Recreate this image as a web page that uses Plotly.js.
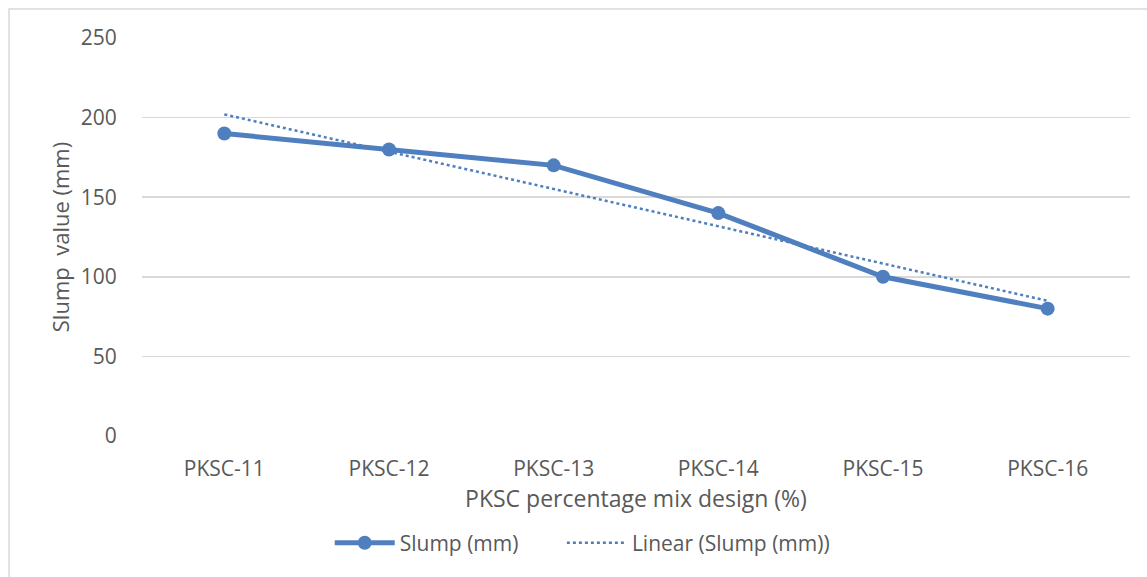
<!DOCTYPE html>
<html>
<head>
<meta charset="utf-8">
<script src="https://cdn.plot.ly/plotly-3.0.1.min.js"></script>
<style>html,body{margin:0;padding:0;background:#fff;}#chart{width:1147px;height:577px;}</style>
</head>
<body>
<div id="chart"></div>
<script>
const categories = ["PKSC-11", "PKSC-12", "PKSC-13", "PKSC-14", "PKSC-15", "PKSC-16"];
const slump = [190, 180, 170, 140, 100, 80];
const linearTrend = [202, 178.6, 155.2, 131.7, 108.3, 84.9];
const yTicks = [0, 50, 100, 150, 200, 250];

const blue = "#4f7fbe";
const textColor = "#595959";
const fontFamily = "'Open Sans', sans-serif";

const traces = [
  {
    x: categories, y: slump, name: "Slump (mm)", type: "scatter", mode: "lines+markers",
    line: {color: blue, width: 5}, marker: {color: blue, size: 14}, legend: "legend"
  },
  {
    x: categories, y: linearTrend, name: "Linear (Slump (mm))", type: "scatter", mode: "lines",
    line: {color: blue, width: 2.5, dash: "dot"}, legend: "legend2"
  }
];

const layout = {
  width: 1147, height: 577,
  margin: {l: 142, r: 17, t: 38, b: 141},
  paper_bgcolor: "#fff", plot_bgcolor: "#fff",
  font: {family: fontFamily, color: textColor, size: 21},
  showlegend: true,
  legend: {orientation: "h", x: 0.19, xanchor: "left", y: -0.269, yanchor: "middle",
           font: {size: 21, color: textColor}, itemwidth: 60},
  legend2: {orientation: "h", x: 0.425, xanchor: "left", y: -0.269, yanchor: "middle",
           font: {size: 21, color: textColor}, itemwidth: 60},
  xaxis: {
    type: "category", range: [-0.5, 5.5], showgrid: false, zeroline: false,
    showline: false, ticks: "outside", ticklen: 14, tickcolor: "rgba(0,0,0,0)",
    tickfont: {size: 21, color: textColor},
    title: {text: "PKSC percentage mix design (%)", font: {size: 23, color: textColor}, standoff: 8}
  },
  yaxis: {
    range: [0, 250], tickvals: yTicks, showgrid: true, gridcolor: "#d9d9d9", gridwidth: 1.5,
    zeroline: false, showline: false, ticks: "outside", ticklen: 20, tickcolor: "rgba(0,0,0,0)",
    tickfont: {size: 21, color: textColor},
    title: {text: "Slump  value (mm)", font: {size: 22, color: textColor}, standoff: 5}
  },
  shapes: [
    {type: "rect", xref: "paper", yref: "paper", x0: -0.1346, x1: 1.3, y0: -0.6, y1: 1.0729,
     line: {color: "#d9d9d9", width: 1.5}, fillcolor: "rgba(0,0,0,0)", layer: "below"}
  ]
};

Plotly.newPlot("chart", traces, layout, {displayModeBar: false, staticPlot: true});
</script>
</body>
</html>
